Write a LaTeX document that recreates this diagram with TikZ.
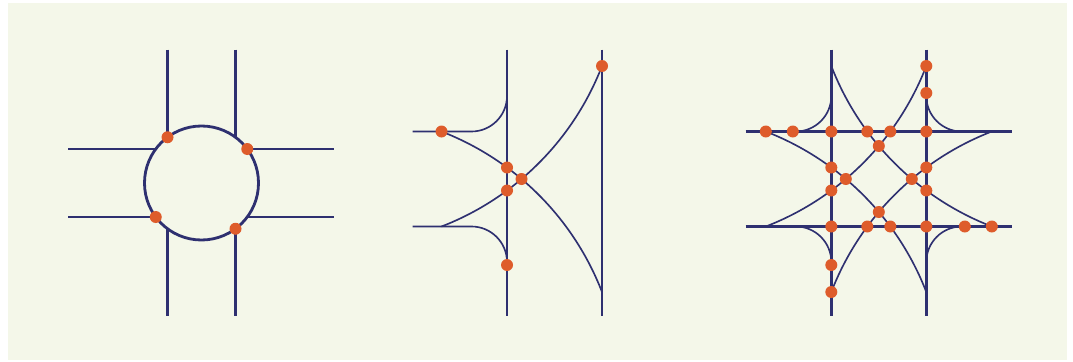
\documentclass[tikz,border=0pt]{standalone}
\usepackage{tikz}
\definecolor{roadnavy}{rgb}{0.18, 0.19, 0.44}
\definecolor{conflictorange}{rgb}{0.87, 0.36, 0.17}
\definecolor{paper}{rgb}{0.957, 0.969, 0.914}

\begin{document}
\begin{tikzpicture}[x=0.3mm, y=-0.3mm,
        road/.style={roadnavy, line width=2.4pt},
        ramp/.style={roadnavy, line width=1.4pt},
        conflict/.style={fill=conflictorange}]
        \useasboundingbox (0,0) rectangle (1073,362);
        \fill[paper] (8,3) rectangle (1067,360);
        % roundabout
        \draw[road] (201.5,183) circle (57);
        \draw[road] (167.5,49.5) -- (167.5,137.25);
        \draw[road] (167.5,228.75) -- (167.5,315.5);
        \draw[road] (235.5,49.5) -- (235.5,137.25);
        \draw[road] (235.5,228.75) -- (235.5,315.5);
        \draw[road] (68.3,149) -- (155.75,149);
        \draw[road] (247.25,149) -- (334,149);
        \draw[road] (68.3,217) -- (155.75,217);
        \draw[road] (247.25,217) -- (334,217);
        \fill[conflict] (167.5,137.25) circle (6);
        \fill[conflict] (247.25,149) circle (6);
        \fill[conflict] (155.75,217) circle (6);
        \fill[conflict] (235.5,228.75) circle (6);
        % half interchange
        \draw[road] (507,49.5) -- (507,315.5);
        \draw[road] (602,49.5) -- (602,315.5);
        \draw[ramp] (412.7,131.5) -- (471.5,131.5) .. controls (491.1,131.5) and (507,115.6) .. (507,96);
        \draw[ramp] (412.7,226.5) -- (471.5,226.5) .. controls (491.1,226.5) and (507,242.4) .. (507,262);
        \draw[ramp] (441.5,131.5) .. controls (515.2,160) and (573.5,218.3) .. (602,292);
        \draw[ramp] (441.5,226.5) .. controls (515.2,198) and (573.5,139.7) .. (602,66);
        \fill[conflict] (441.5,131.5) circle (6);
        \fill[conflict] (507,167.5) circle (6);
        \fill[conflict] (521.5,179) circle (6);
        \fill[conflict] (507,190.5) circle (6);
        \fill[conflict] (507,265) circle (6);
        \fill[conflict] (602,66) circle (6);
        % full interchange
        \draw[ramp] (795.8,131.5) .. controls (815.4,131.5) and (831.3,115.6) .. (831.3,96);
        \draw[ramp] (926.3,96) .. controls (926.3,115.6) and (942.2,131.5) .. (961.8,131.5);
        \draw[ramp] (961.8,226.5) .. controls (942.2,226.5) and (926.3,242.4) .. (926.3,262);
        \draw[ramp] (831.3,262) .. controls (831.3,242.4) and (815.4,226.5) .. (795.8,226.5);
        \draw[ramp] (765.8,226.5) .. controls (839.5,198) and (897.8,139.7) .. (926.3,66);
        \draw[ramp] (831.3,66) .. controls (859.8,139.7) and (918.1,198) .. (991.8,226.5);
        \draw[ramp] (991.8,131.5) .. controls (918.1,160) and (859.8,218.3) .. (831.3,292);
        \draw[ramp] (926.3,292) .. controls (897.8,218.3) and (839.5,160) .. (765.8,131.5);
        \draw[road] (831.3,49.5) -- (831.3,315.5);
        \draw[road] (926.3,49.5) -- (926.3,315.5);
        \draw[road] (745.7,131.5) -- (1011.7,131.5);
        \draw[road] (745.7,226.5) -- (1011.7,226.5);
        \fill[conflict] (765.8,131.5) circle (6);
        \fill[conflict] (792.8,131.5) circle (6);
        \fill[conflict] (831.3,131.5) circle (6);
        \fill[conflict] (867.3,131.5) circle (6);
        \fill[conflict] (890.3,131.5) circle (6);
        \fill[conflict] (926.3,131.5) circle (6);
        \fill[conflict] (878.8,146) circle (6);
        \fill[conflict] (831.3,167.5) circle (6);
        \fill[conflict] (926.3,167.5) circle (6);
        \fill[conflict] (845.8,179) circle (6);
        \fill[conflict] (911.8,179) circle (6);
        \fill[conflict] (831.3,190.5) circle (6);
        \fill[conflict] (926.3,190.5) circle (6);
        \fill[conflict] (878.8,212) circle (6);
        \fill[conflict] (831.3,226.5) circle (6);
        \fill[conflict] (867.3,226.5) circle (6);
        \fill[conflict] (890.3,226.5) circle (6);
        \fill[conflict] (926.3,226.5) circle (6);
        \fill[conflict] (964.8,226.5) circle (6);
        \fill[conflict] (991.8,226.5) circle (6);
        \fill[conflict] (926.3,66) circle (6);
        \fill[conflict] (926.3,93) circle (6);
        \fill[conflict] (831.3,265) circle (6);
        \fill[conflict] (831.3,292) circle (6);
    \end{tikzpicture}
\end{document}
